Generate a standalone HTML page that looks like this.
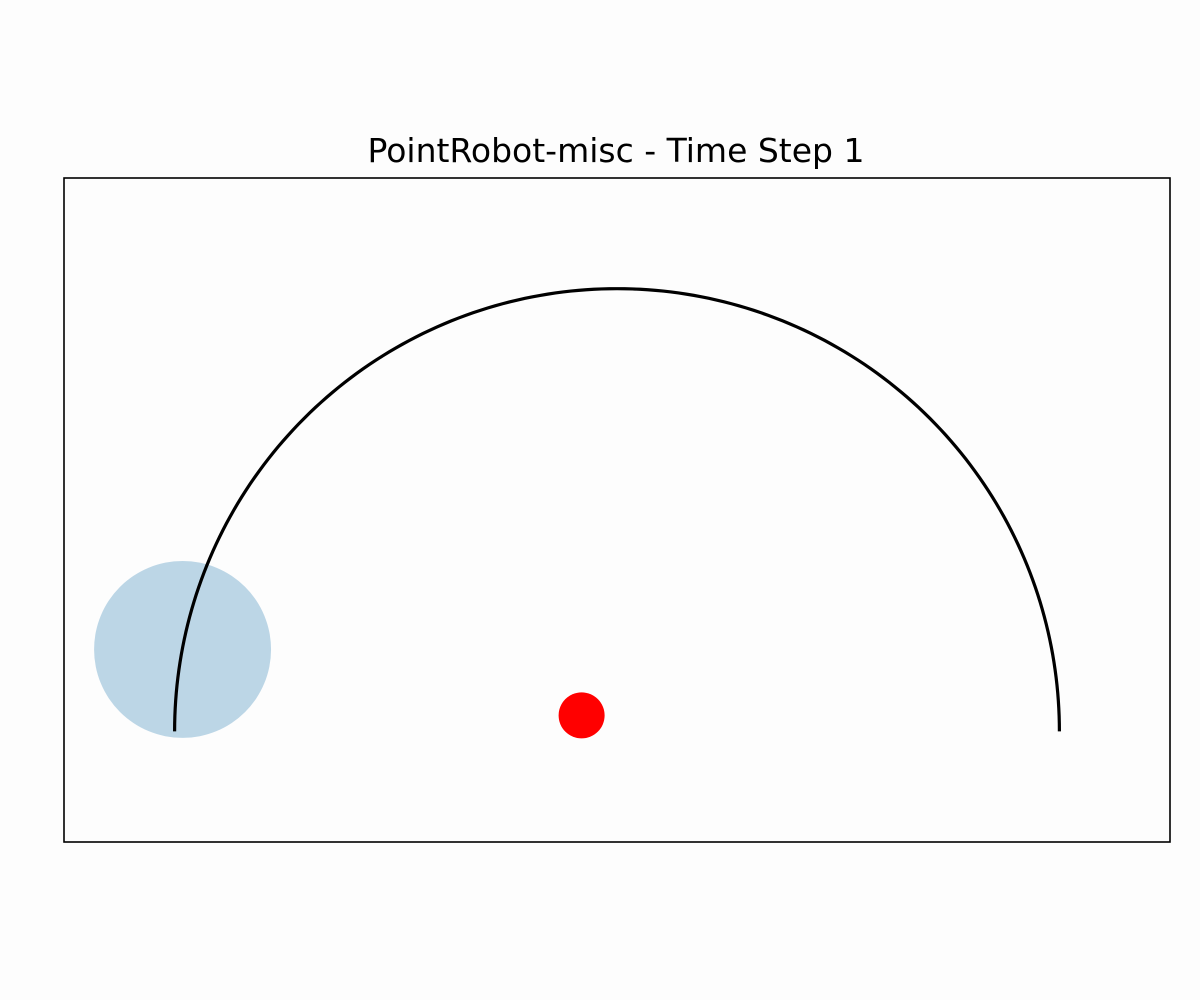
<!DOCTYPE html>
<html><head><meta charset="utf-8"><style>
html,body{margin:0;padding:0;background:#fdfdfd;}
svg{display:block;}
</style></head><body>
<svg id="chart" width="1200" height="1000" xmlns="http://www.w3.org/2000/svg">
<rect x="0" y="0" width="1200" height="1000" fill="#fdfdfd"/>
<text x="616" y="162" text-anchor="middle" font-family="DejaVu Sans, Liberation Sans, sans-serif" font-size="33" fill="#000">PointRobot-misc - Time Step 1</text>
<g id="plot"></g>
<rect x="64" y="178" width="1106" height="664" fill="none" stroke="#000" stroke-width="1.6"/>
</svg>
<script>
const xDomain = [-1.25, 1.25];
const yDomain = [-0.25, 1.25];
const pathCenter = [0, 0];
const pathRadius = [1];
const obstacleCenter = [-0.982, 0.185];
const obstacleRadius = [0.2];
const robotPos = [-0.08, 0.036];
const robotRadius = [0.052];

const L = 64, R = 1170, T = 178, B = 842;
const sx = v => L + (v - xDomain[0]) / (xDomain[1] - xDomain[0]) * (R - L);
const sy = v => B - (v - yDomain[0]) / (yDomain[1] - yDomain[0]) * (B - T);
const scale = (R - L) / (xDomain[1] - xDomain[0]);
const NS = "http://www.w3.org/2000/svg";
const g = document.getElementById('plot');

const obs = document.createElementNS(NS, 'circle');
obs.setAttribute('cx', sx(obstacleCenter[0]));
obs.setAttribute('cy', sy(obstacleCenter[1]));
obs.setAttribute('r', obstacleRadius[0] * scale);
obs.setAttribute('fill', '#bcd6e6');


g.appendChild(obs);

let d = '';
for (let i = 0; i <= 180; i++) {
  const a = Math.PI - i * Math.PI / 180;
  const x = pathCenter[0] + pathRadius[0] * Math.cos(a);
  const y = pathCenter[1] + pathRadius[0] * Math.sin(a);
  d += (i ? 'L' : 'M') + sx(x).toFixed(2) + ',' + sy(y).toFixed(2);
}
const path = document.createElementNS(NS, 'path');
path.setAttribute('d', d);
path.setAttribute('fill', 'none');
path.setAttribute('stroke', '#000');
path.setAttribute('stroke-width', '3.2');


g.appendChild(path);

const rob = document.createElementNS(NS, 'circle');
rob.setAttribute('cx', sx(robotPos[0]));
rob.setAttribute('cy', sy(robotPos[1]));
rob.setAttribute('r', robotRadius[0] * scale);
rob.setAttribute('fill', '#ff0000');


g.appendChild(rob);
</script>
</body></html>
